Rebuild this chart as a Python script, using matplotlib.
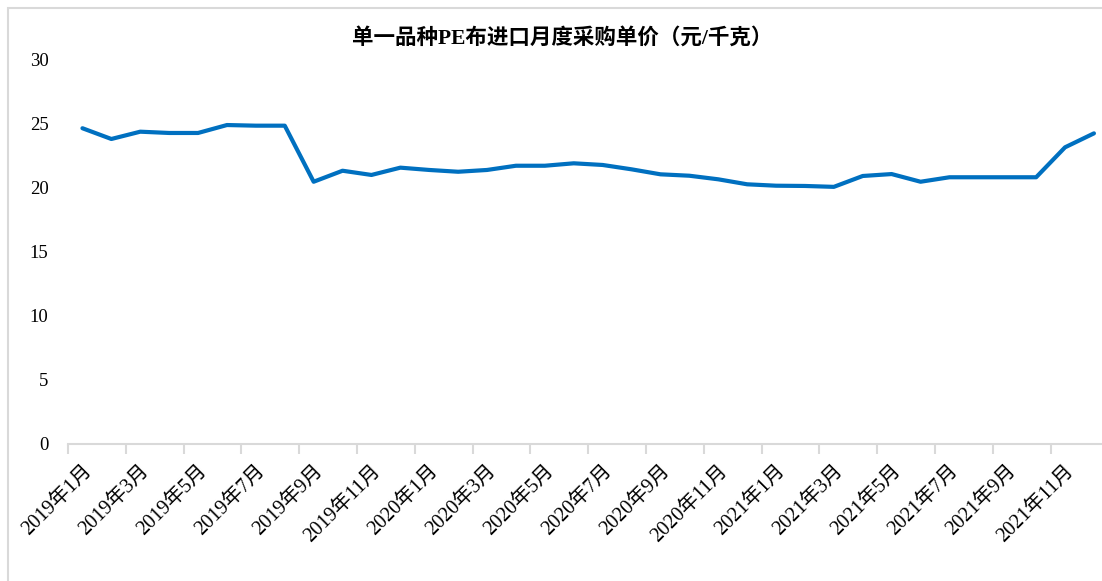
import matplotlib
matplotlib.use("Agg")
import matplotlib.pyplot as plt
from matplotlib.patches import Rectangle

plt.rcParams['font.family'] = ['Liberation Serif', 'Noto Sans CJK SC', 'DejaVu Sans']

# monthly data, 2019-01 .. 2021-12
months = [f"{y}年{m}月" for y in (2019, 2020, 2021) for m in range(1, 13)]
prices = [24.63, 23.79, 24.36, 24.26, 24.26, 24.88, 24.83, 24.83,
          20.45, 21.31, 20.98, 21.55,
          21.37, 21.23, 21.37, 21.70, 21.70, 21.89, 21.76, 21.42,
          21.03, 20.92, 20.64, 20.25,
          20.14, 20.12, 20.05, 20.90, 21.05, 20.45, 20.80, 20.80,
          20.80, 20.80, 23.14, 24.23]
y_ticks = [0, 5, 10, 15, 20, 25, 30]

W, H = 1102, 581
fig = plt.figure(figsize=(W / 100, H / 100), dpi=100)

# outer chart frame (cropped on right / bottom)
fig.patches.append(Rectangle((8 / W, -0.1), 1.2, 1.1 - 8 / H,
                             transform=fig.transFigure, fill=False,
                             edgecolor='#d9d9d9', lw=1.5))

ax = fig.add_axes([68 / W, (H - 443.5) / H, 1040.4 / W, 384 / H])
x = list(range(len(months)))
ax.plot(x, prices, color='#0070C0', lw=3, solid_joinstyle='round',
        solid_capstyle='round')

ax.set_xlim(-0.5, len(months) - 0.5)
ax.set_ylim(0, 30)
ax.set_yticks(y_ticks)
ax.set_yticklabels([str(v) for v in y_ticks], fontsize=13.5)
ax.tick_params(axis='y', length=0, pad=14)

# tick marks at category boundaries, labels at category centres
ax.set_xticks([i - 0.5 for i in range(0, len(months), 2)])
ax.set_xticklabels([])
ax.tick_params(axis='x', which='major', length=7, width=1.5, color='#d9d9d9')
ax.set_xticks(list(range(0, len(months), 2)), minor=True)
ax.set_xticklabels(months[::2], minor=True, rotation=45, ha='right',
                   va='top', rotation_mode='anchor', fontsize=14.5)
ax.tick_params(axis='x', which='minor', length=0, pad=13)

for s in ('left', 'right', 'top'):
    ax.spines[s].set_visible(False)
ax.spines['bottom'].set_color('#d9d9d9')
ax.spines['bottom'].set_linewidth(1.5)

fig.text(562 / W, 1 - 38 / H, '单一品种PE布进口月度采购单价（元/千克）',
         ha='center', va='center', fontsize=15.5, fontweight='bold')

fig.savefig('out.png', dpi=100)
